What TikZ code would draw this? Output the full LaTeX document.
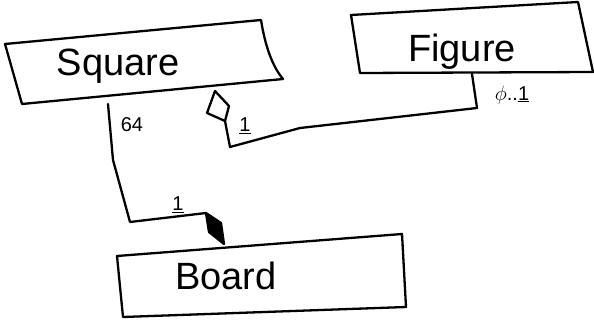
\documentclass[tikz,border=0pt]{standalone}
\usepackage{fontspec}
\setmainfont{Liberation Sans}
\tikzset{
  stroke/.style={line width=2.3pt, line join=round, line cap=round},
  boxlabel/.style={font=\fontsize{38}{42}\selectfont, inner sep=0pt},
  mult/.style={font=\fontsize{20}{22}\selectfont, inner sep=0pt}
}
\begin{document}
\begin{tikzpicture}[x=1pt,y=-1pt]
\useasboundingbox (0,0) rectangle (594,326);
% Square box
\coordinate (s1) at (5,44);
\coordinate (s2) at (261,20);
\coordinate (s3) at (283,79);
\coordinate (s4) at (22,104);
\draw[stroke] (s1) -- (s2) .. controls (265,45) and (272,66) .. (s3) -- (s4) -- cycle;
\node[boxlabel] (square) at (118,66) {Square};
% Figure box
\coordinate (f1) at (351,15);
\coordinate (f2) at (578,2);
\coordinate (f3) at (593,72);
\coordinate (f4) at (360,73);
\draw[stroke] (f1) -- (f2) -- (f3) -- (f4) -- cycle;
\node[boxlabel] (figure) at (462,52) {Figure};
% Board box
\coordinate (b1) at (117,256);
\coordinate (b2) at (402,234);
\coordinate (b3) at (406,307);
\coordinate (b4) at (123,317);
\draw[stroke] (b1) -- (b2) -- (b3) -- (b4) -- cycle;
\node[boxlabel] (board) at (226,276) {Board};
% aggregation Square -- Figure
\coordinate (ad1) at (215,91);
\coordinate (ad2) at (229,106);
\coordinate (ad3) at (225,121);
\coordinate (ad4) at (207,113);
\draw[stroke] (ad1) -- (ad2) -- (ad3) -- (ad4) -- cycle;
\coordinate (fa) at (472,74);
\draw[stroke] (ad3) -- (230,147) -- (300,128) -- (477,108) -- (fa);
\node[mult] (one1) at (245,126) {\underline{1}};
\node[mult] (zeroone) at (512,95) {$\phi$..\underline{1}};
% composition Square -- Board
\coordinate (sc) at (108,104);
\coordinate (cd1) at (206,213);
\coordinate (cd2) at (221,223);
\coordinate (cd3) at (224,244);
\coordinate (cd4) at (209,232);
\draw[stroke] (sc) -- (113,160) -- (130,222) -- (cd1);
\draw[stroke, fill=black] (cd1) -- (cd2) -- (cd3) -- (cd4) -- cycle;
\node[mult] (sixtyfour) at (132,125) {64};
\node[mult] (one2) at (178,205) {\underline{1}};
\end{tikzpicture}
\end{document}
